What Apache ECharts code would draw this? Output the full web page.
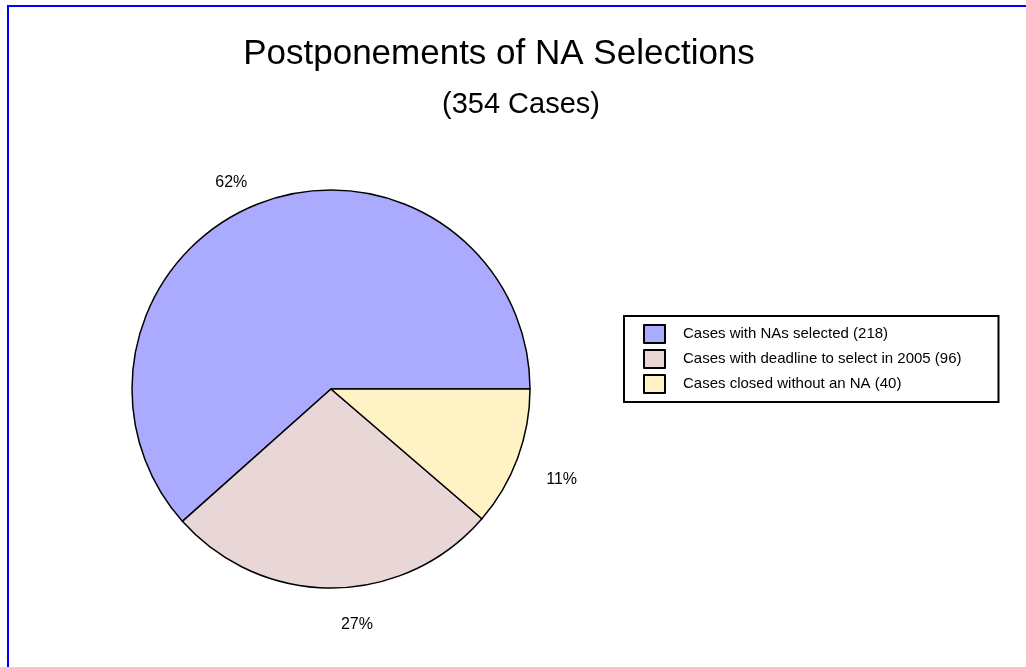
<!DOCTYPE html>
<html>
<head>
<meta charset="utf-8">
<title>Postponements of NA Selections</title>
<script src="https://cdn.jsdelivr.net/npm/echarts@6/dist/echarts.min.js"></script>
<style>
    html, body { margin: 0; padding: 0; background: #fff; }
    #chart { width: 1026px; height: 667px; }
</style>
</head>
<body>
<div id="chart"></div>
<script>
// categories and case counts
const categories = [
    'Cases with NAs selected (218)',
    'Cases with deadline to select in 2005 (96)',
    'Cases closed without an NA (40)'
]
const caseCounts = [218, 96, 40]
const sliceColors = ['#AAAAFF', '#E9D6D6', '#FFF2C4']
// small nudges so the percent labels sit where the original put them
const labelOffsets = [[0, 0], [3, 15], [3, 14]]

const font = '"Liberation Sans", Arial, sans-serif'

const chart = echarts.init(document.getElementById('chart'))

const pieData = categories.map((name, i) => {
    return {
        name: name,
        value: caseCounts[i],
        itemStyle: { color: sliceColors[i] },
        label: { offset: labelOffsets[i] }
    }
})

const option = {
    backgroundColor: '#fff',
    animation: false,
    title: [
        {
            text: 'Postponements of NA Selections',
            left: 499,
            top: 37,
            textAlign: 'center',
            padding: 0,
            textStyle: { fontSize: 35, fontWeight: 'normal', color: '#000', fontFamily: font }
        },
        {
            text: '(354 Cases)',
            left: 521,
            top: 90,
            textAlign: 'center',
            padding: 0,
            textStyle: { fontSize: 29, fontWeight: 'normal', color: '#000', fontFamily: font }
        }
    ],
    legend: {
        orient: 'vertical',
        left: 624,
        top: 316,
        icon: 'rect',
        itemWidth: 21,
        itemHeight: 18,
        itemGap: 5,
        padding: [8, 37, 8, 19],
        borderColor: '#000',
        borderWidth: 2,
        backgroundColor: '#fff',
        itemStyle: { borderColor: '#000', borderWidth: 2 },
        textStyle: { fontSize: 15, color: '#000', fontFamily: font, padding: [0, 0, 0, 13] },
        data: categories
    },
    // blue frame on the top and left edges
    graphic: [
        { type: 'line', shape: { x1: 7, y1: 6, x2: 1026, y2: 6 }, style: { stroke: '#0000FF', lineWidth: 2 } },
        { type: 'line', shape: { x1: 8, y1: 5, x2: 8, y2: 667 }, style: { stroke: '#0000FF', lineWidth: 2 } }
    ],
    series: [
        {
            type: 'pie',
            center: [331, 389],
            radius: 199,
            startAngle: 0,
            clockwise: false,
            percentPrecision: 0,
            itemStyle: { borderColor: '#000', borderWidth: 1.5 },
            emphasis: { disabled: true },
            label: {
                show: true,
                position: 'outside',
                formatter: '{d}%',
                fontSize: 16,
                color: '#000',
                fontFamily: font
            },
            labelLine: { show: false, length: 22, length2: 0 },
            data: pieData
        }
    ]
}

chart.setOption(option)
</script>
</body>
</html>
